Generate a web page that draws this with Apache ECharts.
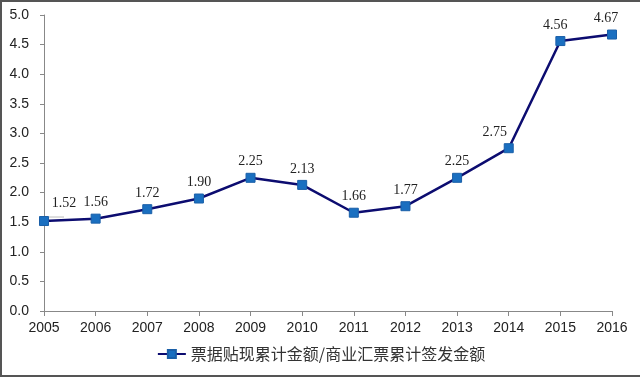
<!DOCTYPE html>
<html>
<head>
<meta charset="utf-8">
<script src="https://cdn.jsdelivr.net/npm/echarts@6/dist/echarts.min.js"></script>
<style>
  html, body { margin: 0; padding: 0; background: #fff; }
  #chart {
    width: 640px;
    height: 377px;
    box-sizing: border-box;
    border-top: 2px solid #555;
    border-left: 2px solid #555;
    border-bottom: 2px solid #555;
  }
</style>
</head>
<body>
<div id="chart"></div>
<script>
// 数据
const years = ['2005', '2006', '2007', '2008', '2009', '2010', '2011', '2012', '2013', '2014', '2015', '2016'];
const ratio = [1.52, 1.56, 1.72, 1.90, 2.25, 2.13, 1.66, 1.77, 2.25, 2.75, 4.56, 4.67];
const seriesName = '票据贴现累计金额/商业汇票累计签发金额';

const chart = echarts.init(document.getElementById('chart'));

// 个别标签位置微调
const labelOffsets = {
  0: [20, -2],
  9: [-14, 0],
  10: [-5, 0],
  11: [-6, 0]
};

const seriesData = ratio.map((v, i) => {
  if (labelOffsets[i]) {
    const item = { value: v, label: { offset: labelOffsets[i] } };
    if (i === 0) item.labelLine = { show: true, lineStyle: { color: '#bbb', width: 1 } };
    return item;
  }
  return v;
});

chart.setOption({
  animation: false,
  grid: { left: 42, right: 28, top: 13, bottom: 64 },
  legend: {
    bottom: 8,
    left: 'center',
    itemWidth: 28,
    itemHeight: 10,
    itemGap: 6,
    textStyle: { fontFamily: 'Noto Sans CJK SC', fontSize: 16, color: '#333' },
    data: [seriesName]
  },
  xAxis: {
    type: 'category',
    data: years,
    boundaryGap: false,
    axisLine: { lineStyle: { color: '#888', width: 1 } },
    axisTick: { show: true, alignWithLabel: true, length: 5, lineStyle: { color: '#888' } },
    axisLabel: { color: '#222', fontFamily: 'Liberation Sans', fontSize: 14, margin: 10 },
    splitLine: { show: false }
  },
  yAxis: {
    type: 'value',
    min: 0,
    max: 5,
    interval: 0.5,
    axisLine: { show: true, lineStyle: { color: '#888', width: 1 } },
    axisTick: { show: true, length: 4, lineStyle: { color: '#888' } },
    axisLabel: {
      color: '#222', fontFamily: 'Liberation Sans', fontSize: 14, margin: 15,
      formatter: v => v.toFixed(1)
    },
    splitLine: { show: false }
  },
  series: [{
    name: seriesName,
    type: 'line',
    data: seriesData,
    symbol: 'rect',
    symbolSize: 9,
    lineStyle: { color: '#0c0c70', width: 2.5 },
    itemStyle: { color: '#1a6fc0', borderColor: '#1a5fa8', borderWidth: 1 },
    label: {
      show: true,
      position: 'top',
      distance: 4,
      fontFamily: 'Liberation Serif',
      fontSize: 14,
      color: '#222',
      formatter: p => p.value.toFixed(2)
    }
  }]
});
</script>
</body>
</html>
